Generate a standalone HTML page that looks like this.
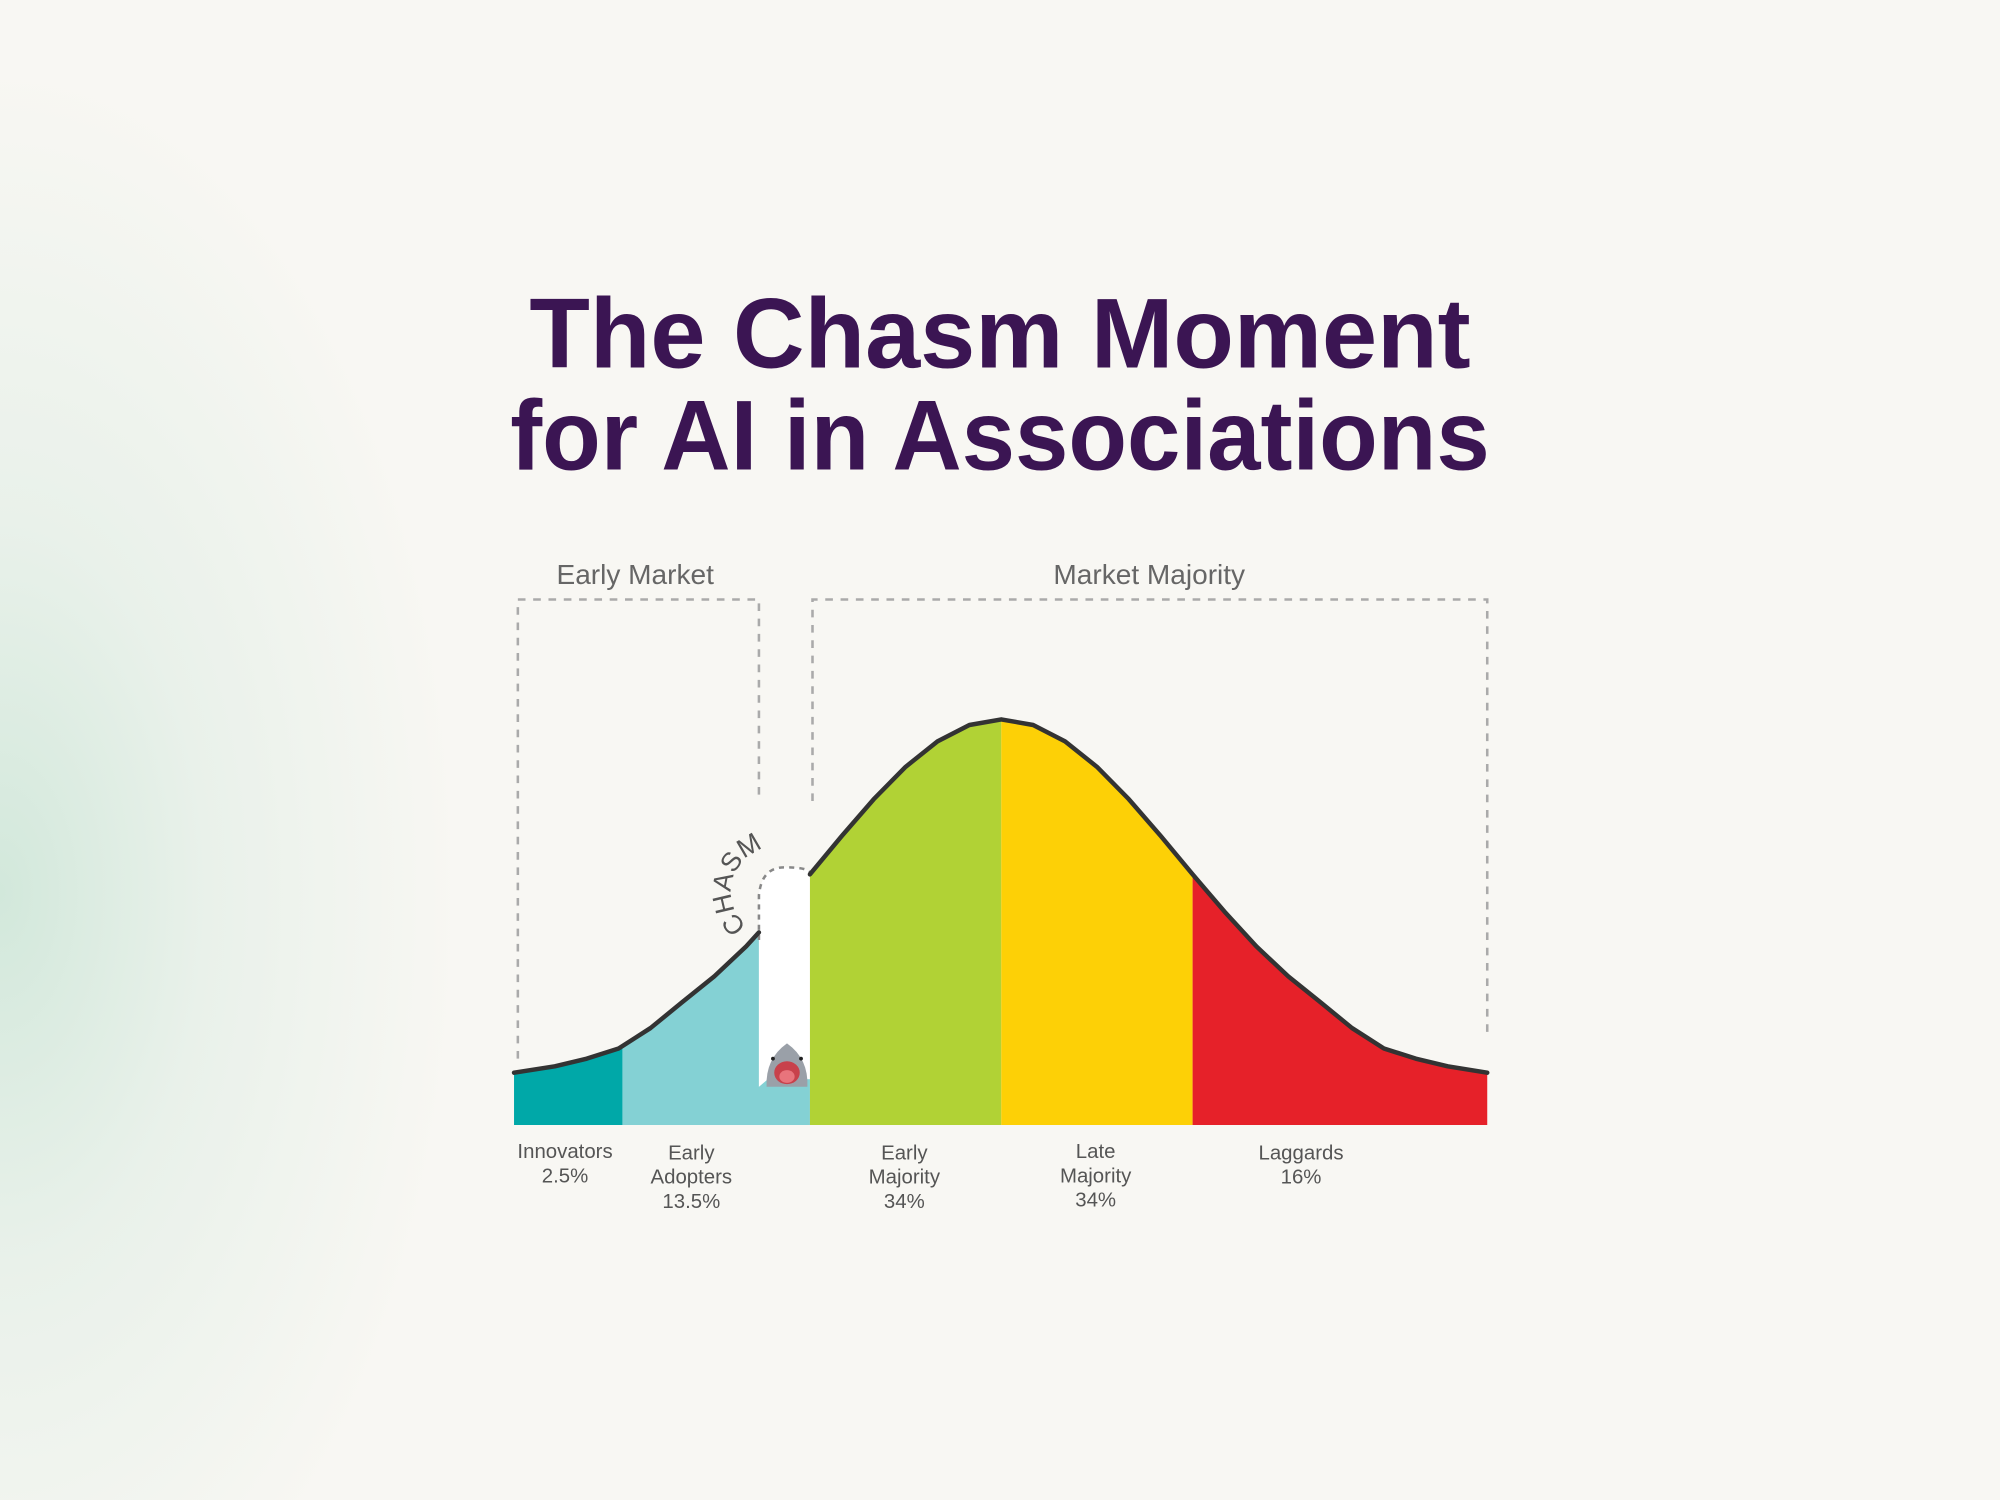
<!DOCTYPE html>
<html><head><meta charset="utf-8"><style>
html,body{margin:0;padding:0;width:2000px;height:1500px;overflow:hidden;background:#f8f7f3;}
svg{display:block}
</style></head><body>
<svg width="2000" height="1500" viewBox="0 0 1568 1176" xmlns="http://www.w3.org/2000/svg">
<defs>
<radialGradient id="bg" cx="0" cy="700" r="360" gradientUnits="userSpaceOnUse" gradientTransform="translate(0,700) scale(1,1.8) translate(0,-700)">
<stop offset="0" stop-color="#d2e8db"/><stop offset="0.45" stop-color="#e9f1ea"/><stop offset="1" stop-color="#f8f7f3"/>
</radialGradient>
</defs>
<rect width="1568" height="1176" fill="#f8f7f3"/>
<rect width="1568" height="1176" fill="url(#bg)"/>
<g font-family="Liberation Sans, sans-serif" font-weight="bold" fill="#3b1553" font-size="78">
<text x="415" y="288" textLength="738" lengthAdjust="spacingAndGlyphs">The Chasm Moment</text>
<text x="400" y="368" textLength="768" lengthAdjust="spacingAndGlyphs">for AI in Associations</text>
</g>
<g font-family="Liberation Sans, sans-serif" fill="#666" font-size="22" text-anchor="middle">
<text x="498" y="458">Early Market</text>
<text x="901" y="458">Market Majority</text>
</g>
<!-- fills -->
<polygon fill="#00a8a8" points="403,882 403,841 435,836 460,830 485,822 488,820 488,882"/>
<polygon fill="#84d1d4" points="488,882 488,820 510,806 535,785.6 560,765.5 585,742 595,731 595,852 602,846 635,846 635,882"/>
<path fill="#ffffff" d="M595 852 V702 Q597 680 615 680 Q633 680 635 684 V846 H602 Z"/>
<polygon fill="#b1d235" points="635,882 635,685.5 660,655.4 685,626.6 710,601.2 735,581.2 760,568.4 785,564 785,882"/>
<polygon fill="#fdd006" points="785,882 785,564 810,568.4 835,581.2 860,601.2 885,626.6 910,655.4 935,685.5 935,882"/>
<polygon fill="#e62129" points="935,882 935,685.5 960,714.7 985,742 1010,765.5 1035,785.6 1060,806 1085,822 1110,830 1135,836 1166,841 1166,882"/>
<g fill="none" stroke="#aaa" stroke-width="2" stroke-dasharray="6 6">
<path d="M406 830 V470 H595 V628"/>
<path d="M637 628 V470 H1166 V812"/>
<path d="M595 737 V702 Q597 680 615 680 Q633 680 635 684" stroke="#888" stroke-width="2" stroke-dasharray="4 4"/>
</g>
<g fill="none" stroke="#333" stroke-width="3.5" stroke-linejoin="round" stroke-linecap="round">
<polyline points="403,841 435,836 460,830 485,822 510,806 535,785.6 560,765.5 585,742 595,731"/>
<polyline points="635,685.5 660,655.4 685,626.6 710,601.2 735,581.2 760,568.4 785,564 810,568.4 835,581.2 860,601.2 885,626.6 910,655.4 935,685.5 960,714.7 985,742 1010,765.5 1035,785.6 1060,806 1085,822 1110,830 1135,836 1166,841"/>
</g>
<!-- CHASM -->
<path id="arc" d="M586 726 A30 30 0 0 1 630 672" fill="none"/>
<text font-family="Liberation Sans, sans-serif" font-size="21" fill="#555"><textPath href="#arc">CHASM</textPath></text>
<!-- shark -->
<g>
<path d="M601 852 Q600 830 617 818 Q634 830 633 852 Z" fill="#9aa0a8"/>
<ellipse cx="617" cy="841" rx="10" ry="9" fill="#c8414b"/>
<ellipse cx="617" cy="844" rx="6" ry="5" fill="#e8747c"/>
<circle cx="606" cy="830" r="1.5" fill="#222"/><circle cx="628" cy="830" r="1.5" fill="#222"/>
</g>
<g font-family="Liberation Sans, sans-serif" fill="#555" font-size="16" text-anchor="middle">
<text x="443" y="908">Innovators</text><text x="443" y="927">2.5%</text>
<text x="542" y="909">Early</text><text x="542" y="928">Adopters</text><text x="542" y="947">13.5%</text>
<text x="709" y="909">Early</text><text x="709" y="928">Majority</text><text x="709" y="947">34%</text>
<text x="859" y="908">Late</text><text x="859" y="927">Majority</text><text x="859" y="946">34%</text>
<text x="1020" y="909">Laggards</text><text x="1020" y="928">16%</text>
</g>
</svg>
</body></html>
